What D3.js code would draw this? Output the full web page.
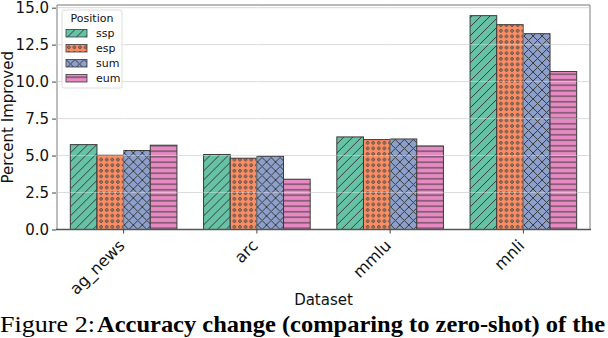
<!DOCTYPE html>
<html>
<head>
<meta charset="utf-8">
<script src="https://cdn.jsdelivr.net/npm/d3@7"></script>
<style>
  body { margin: 0; background: #fff; }
  svg { display: block; }
</style>
</head>
<body>
<div id="chart"></div>
<script>
const datasets = ['ag_news', 'arc', 'mmlu', 'mnli'];
const positions = ['ssp', 'esp', 'sum', 'eum'];
const ssp = [5.74, 5.07, 6.26, 14.46];
const esp = [5.02, 4.82, 6.08, 13.85];
const sum = [5.34, 4.95, 6.12, 13.24];
const eum = [5.70, 3.40, 5.65, 10.68];
const yTicks = [0, 2.5, 5, 7.5, 10, 12.5, 15];

const series = { ssp, esp, sum, eum };
const COLORS = { ssp: '#66c2a5', esp: '#fc8d62', sum: '#8da0cb', eum: '#e78ac3' };
const EDGE = '#3a3a3a';

const W = 608, H = 338;
const mLeft = 57, mRight = 590, mTop = 5, mBottom = 229.5;

const svg = d3.select('#chart').append('svg')
  .attr('width', W).attr('height', H)
  .style('font-family', "'DejaVu Sans', sans-serif");

const defs = svg.append('defs');

// hatch patterns, one per position
function addPattern(key) {
  const p = defs.append('pattern')
    .attr('id', 'h-' + key)
    .attr('patternUnits', 'userSpaceOnUse');
  if (key === 'ssp') {
    p.attr('width', 9).attr('height', 9);
    p.append('rect').attr('width', 9).attr('height', 9).attr('fill', COLORS[key]);
    p.append('path').attr('d', 'M0,9 L9,0 M-1,1 L1,-1 M8,10 L10,8')
      .attr('stroke', EDGE).attr('stroke-width', 1);
  } else if (key === 'esp') {
    p.attr('width', 5.6).attr('height', 11.2);
    p.append('rect').attr('width', 5.6).attr('height', 11.2).attr('fill', COLORS[key]);
    [[2.8, 2.8], [2.8, 8.4]].forEach(([x, y]) => {
      p.append('circle').attr('cx', x).attr('cy', y).attr('r', 1.3)
        .attr('fill', '#c9a08a').attr('stroke', EDGE).attr('stroke-width', 0.9);
    });
  } else if (key === 'sum') {
    p.attr('width', 9).attr('height', 9);
    p.append('rect').attr('width', 9).attr('height', 9).attr('fill', COLORS[key]);
    p.append('path').attr('d', 'M0,0 L9,9 M0,9 L9,0')
      .attr('stroke', EDGE).attr('stroke-width', 1);
  } else {
    p.attr('width', 9).attr('height', 5.5);
    p.append('rect').attr('width', 9).attr('height', 5.5).attr('fill', COLORS[key]);
    p.append('line').attr('x1', 0).attr('x2', 9).attr('y1', 2.75).attr('y2', 2.75)
      .attr('stroke', EDGE).attr('stroke-width', 1);
  }
}
positions.forEach(addPattern);

const x = d3.scaleBand().domain(datasets).range([mLeft, mRight])
  .paddingInner(0.2).paddingOuter(0.1);
const xSub = d3.scaleBand().domain(positions).range([0, x.bandwidth()]);
const y = d3.scaleLinear().domain([0, 15.18]).range([mBottom, mTop]);

// grid under the bars
svg.append('g')
  .selectAll('line')
  .data(yTicks)
  .join('line')
  .attr('x1', mLeft).attr('x2', mRight)
  .attr('y1', d => y(d)).attr('y2', d => y(d))
  .attr('stroke', '#cccccc').attr('stroke-width', 1);

// bars
const groups = svg.append('g')
  .selectAll('g')
  .data(datasets)
  .join('g')
  .attr('transform', d => `translate(${x(d)},0)`);

groups.selectAll('rect')
  .data((d, i) => positions.map(k => ({ key: k, value: series[k][i] })))
  .join('rect')
  .attr('x', d => xSub(d.key))
  .attr('y', d => y(d.value))
  .attr('width', xSub.bandwidth())
  .attr('height', d => mBottom - y(d.value))
  .attr('fill', d => `url(#h-${d.key})`)
  .attr('stroke', EDGE)
  .attr('stroke-width', 1);

// faint grid drawn over the bars
svg.append('g')
  .selectAll('line')
  .data(yTicks.slice(1))
  .join('line')
  .attr('x1', mLeft).attr('x2', mRight)
  .attr('y1', d => y(d)).attr('y2', d => y(d))
  .attr('stroke', '#ffffff').attr('stroke-opacity', 0.35).attr('stroke-width', 1);
svg.append('g')
  .selectAll('line')
  .data(datasets)
  .join('line')
  .attr('x1', d => x(d) + x.bandwidth() / 2).attr('x2', d => x(d) + x.bandwidth() / 2)
  .attr('y1', mTop).attr('y2', mBottom)
  .attr('stroke', '#ffffff').attr('stroke-opacity', 0.35).attr('stroke-width', 1);

// spines
svg.append('line').attr('x1', mLeft).attr('x2', mLeft).attr('y1', mTop).attr('y2', mBottom)
  .attr('stroke', '#bdbdbd').attr('stroke-width', 2);
svg.append('line').attr('x1', mRight).attr('x2', mRight).attr('y1', mTop).attr('y2', mBottom)
  .attr('stroke', '#bdbdbd').attr('stroke-width', 2);
svg.append('line').attr('x1', mLeft).attr('x2', mRight).attr('y1', mTop).attr('y2', mTop)
  .attr('stroke', '#777777').attr('stroke-width', 1.2);
svg.append('line').attr('x1', mLeft - 1).attr('x2', mRight + 1).attr('y1', mBottom).attr('y2', mBottom)
  .attr('stroke', '#555555').attr('stroke-width', 1.5);

// y axis
const yAxis = svg.append('g')
  .attr('transform', `translate(${mLeft - 1},0)`)
  .call(d3.axisLeft(y).tickValues(yTicks).tickFormat(d3.format('.1f')).tickSize(4).tickPadding(3));
yAxis.select('.domain').remove();
yAxis.selectAll('line').attr('stroke', '#444');
yAxis.selectAll('text').attr('font-size', 15).attr('fill', '#111')
  .attr('font-family', "'DejaVu Sans', sans-serif");

// x axis
const xAxis = svg.append('g')
  .attr('transform', `translate(0,${mBottom})`)
  .call(d3.axisBottom(x).tickSize(4).tickSizeOuter(0));
xAxis.select('.domain').remove();
xAxis.selectAll('line').attr('stroke', '#444');
xAxis.selectAll('text')
  .attr('font-size', 16).attr('fill', '#111')
  .attr('font-family', "'DejaVu Sans', sans-serif")
  .attr('text-anchor', 'end')
  .attr('dy', null).attr('y', 0)
  .attr('transform', 'translate(2,17) rotate(-45)');

// axis titles
svg.append('text')
  .attr('transform', `translate(13,${(mTop + mBottom) / 2}) rotate(-90)`)
  .attr('text-anchor', 'middle')
  .attr('font-size', 15).attr('fill', '#111')
  .text('Percent Improved');

svg.append('text')
  .attr('x', (mLeft + mRight) / 2).attr('y', 304.5)
  .attr('text-anchor', 'middle')
  .attr('font-size', 15).attr('fill', '#111')
  .text('Dataset');

// caption
const cap = svg.append('g')
  .attr('font-family', "'Liberation Serif', 'Times New Roman', serif")
  .attr('font-size', 23).attr('fill', '#000');
cap.append('text').attr('x', 0).attr('y', 332)
  .attr('textLength', 95).attr('lengthAdjust', 'spacingAndGlyphs')
  .text('Figure 2:');
cap.append('text').attr('x', 97).attr('y', 332)
  .attr('font-weight', 'bold')
  .attr('textLength', 508).attr('lengthAdjust', 'spacingAndGlyphs')
  .text('Accuracy change (comparing to zero-shot) of the');

// legend
const lg = svg.append('g').attr('transform', 'translate(62,10)');
lg.append('rect').attr('width', 60).attr('height', 78).attr('rx', 2)
  .attr('fill', '#fff').attr('fill-opacity', 0.85)
  .attr('stroke', '#dddddd').attr('stroke-width', 1);
lg.append('text').attr('x', 30).attr('y', 12).attr('text-anchor', 'middle')
  .attr('font-size', 11).attr('fill', '#111').text('Position');
const items = lg.selectAll('g.item')
  .data(positions)
  .join('g')
  .attr('class', 'item')
  .attr('transform', (d, i) => `translate(4,${19.5 + i * 15})`);
items.append('rect').attr('width', 21).attr('height', 7.5)
  .attr('fill', d => `url(#h-${d})`).attr('stroke', EDGE).attr('stroke-width', 0.8);
items.append('text').attr('x', 30).attr('y', 7.5)
  .attr('font-size', 11).attr('fill', '#111').text(d => d);
</script>
</body>
</html>
